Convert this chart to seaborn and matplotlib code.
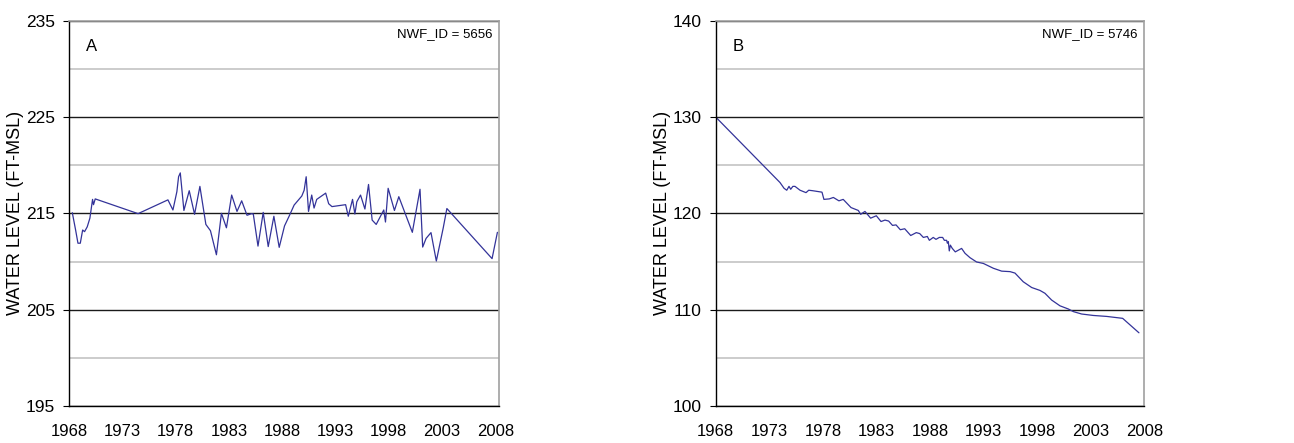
import numpy as np
import pandas as pd
import matplotlib
matplotlib.use("Agg")
import matplotlib.pyplot as plt
import seaborn as sns

# ---- Data: well NWF_ID 5656 (panel A) ----
years_a = [1968.31, 1968.62, 1968.84, 1969.06, 1969.28, 1969.46, 1969.71, 1969.96,
           1970.21, 1970.30, 1970.46, 1974.48, 1977.28, 1977.75, 1978.12, 1978.28,
           1978.44, 1978.78, 1979.28, 1979.78, 1980.28, 1980.84, 1981.27, 1981.83,
           1982.30, 1982.77, 1983.26, 1983.76, 1984.20, 1984.70, 1985.13, 1985.29,
           1985.73, 1986.22, 1986.69, 1987.22, 1987.72, 1988.22, 1988.69, 1989.12,
           1989.84, 1990.06, 1990.25, 1990.47, 1990.77, 1990.99, 1991.24, 1992.08,
           1992.36, 1992.67, 1993.95, 1994.20, 1994.60, 1994.82, 1995.00, 1995.35,
           1995.76, 1996.10, 1996.44, 1996.82, 1997.53, 1997.69, 1997.94, 1998.53,
           1998.94, 2000.21, 2000.93, 2001.18, 2001.50, 2001.96, 2002.46, 2003.11,
           2003.45, 2007.69, 2008.19]
level_a = [215.07, 213.27, 211.90, 211.90, 213.27, 213.10, 213.60, 214.50,
           216.45, 215.90, 216.50, 214.97, 216.40, 215.35, 217.25, 218.80,
           219.20, 215.30, 217.35, 214.90, 217.80, 213.85, 213.20, 210.70,
           215.00, 213.50, 216.90, 215.20, 216.30, 214.80, 214.97, 214.93,
           211.60, 215.10, 211.55, 214.70, 211.47, 213.70, 214.80, 215.86,
           216.80, 217.40, 218.80, 215.20, 216.90, 215.55, 216.45, 217.10,
           216.00, 215.70, 215.90, 214.70, 216.45, 214.93, 216.20, 216.90,
           215.45, 218.00, 214.30, 213.85, 215.35, 214.10, 217.60, 215.30,
           216.73, 213.03, 217.50, 211.50, 212.40, 213.00, 210.05, 213.50,
           215.50, 210.30, 213.03]

# ---- Data: well NWF_ID 5746 (panel B) ----
years_b = [1968.00, 1974.00, 1974.38, 1974.63, 1974.84, 1975.00, 1975.20, 1975.40,
           1975.87, 1976.43, 1976.68, 1977.05, 1977.92, 1978.10, 1978.60, 1978.98,
           1979.50, 1979.90, 1980.63, 1981.31, 1981.53, 1981.93, 1982.46, 1982.99,
           1983.43, 1983.80, 1984.14, 1984.50, 1984.83, 1985.23, 1985.64, 1986.20,
           1986.72, 1987.04, 1987.38, 1987.75, 1987.94, 1988.30, 1988.56, 1988.87,
           1989.18, 1989.34, 1989.55, 1989.62, 1989.71, 1989.80, 1989.90, 1990.08,
           1990.36, 1990.95, 1991.27, 1991.73, 1992.35, 1992.98, 1993.91, 1994.69,
           1995.47, 1995.93, 1996.70, 1997.49, 1998.26, 1998.73, 1999.35, 2000.13,
           2000.91, 2001.38, 2002.15, 2003.24, 2004.49, 2005.98, 2007.50]
level_b = [130.00, 123.20, 122.60, 122.40, 122.80, 122.50, 122.80, 122.80,
           122.40, 122.15, 122.40, 122.35, 122.20, 121.45, 121.50, 121.65,
           121.30, 121.45, 120.60, 120.30, 119.90, 120.20, 119.50, 119.75,
           119.15, 119.30, 119.20, 118.75, 118.80, 118.30, 118.40, 117.70,
           118.00, 117.90, 117.50, 117.60, 117.20, 117.50, 117.30, 117.50,
           117.50, 117.20, 117.20, 116.90, 117.06, 116.10, 116.70, 116.36,
           116.00, 116.36, 115.85, 115.40, 114.95, 114.80, 114.30, 114.00,
           113.95, 113.80, 112.90, 112.30, 112.00, 111.70, 111.00, 110.40,
           110.07, 109.80, 109.55, 109.40, 109.30, 109.10, 107.60]

x_ticks = [1968, 1973, 1978, 1983, 1988, 1993, 1998, 2003, 2008]
y_ticks_a = [195, 205, 215, 225, 235]
y_minor_a = [200, 210, 220, 230]
y_ticks_b = [100, 110, 120, 130, 140]
y_minor_b = [105, 115, 125, 135]

panels = [
    dict(letter="A", well="NWF_ID = 5656", years=years_a, level=level_a,
         yticks=y_ticks_a, yminor=y_minor_a, xlim=(1968, 2008.34)),
    dict(letter="B", well="NWF_ID = 5746", years=years_b, level=level_b,
         yticks=y_ticks_b, yminor=y_minor_b, xlim=(1968, 2008)),
]

sns.set_style("white")
plt.rcParams['font.family'] = ['Liberation Sans', 'DejaVu Sans']
plt.rcParams['text.color'] = 'black'
plt.rcParams['xtick.color'] = 'black'
plt.rcParams['ytick.color'] = 'black'
plt.rcParams['axes.labelcolor'] = 'black'

fig = plt.figure(figsize=(12.94, 4.43), dpi=100)
axes_pos = [[69/1294, 1-406/443, 430/1294, 385.3/443],
            [715.7/1294, 1-406/443, 428.6/1294, 385.3/443]]
line_color = "#333399"

for pos, p in zip(axes_pos, panels):
    ax = fig.add_axes(pos)
    df = pd.DataFrame({"year": p["years"], "level": p["level"]})
    sns.lineplot(data=df, x="year", y="level", ax=ax, color=line_color,
                 linewidth=0.9, sort=False, estimator=None)
    ax.set_xlim(*p["xlim"])
    ax.set_ylim(p["yticks"][0], p["yticks"][-1])
    ax.set_xticks(x_ticks)
    ax.set_xticklabels([str(t) for t in x_ticks])
    ax.set_yticks(p["yticks"])
    ax.set_yticklabels([str(t) for t in p["yticks"]])
    ax.set_yticks(p["yminor"], minor=True)
    ax.grid(False)
    ax.grid(which="major", axis="y", color="#1a1a1a", linewidth=1.0)
    ax.grid(which="minor", axis="y", color="#cccccc", linewidth=1.4)
    ax.set_axisbelow(True)
    for s in ["left", "bottom"]:
        ax.spines[s].set_color("black")
        ax.spines[s].set_linewidth(1.0)
    for s in ["top", "right"]:
        ax.spines[s].set_color("#a0a0a0")
        ax.spines[s].set_linewidth(1.2)
    ax.tick_params(axis="x", which="major", direction="in", length=4.5,
                   width=0.8, color="#444444", labelcolor="black",
                   labelsize=12, pad=13)
    ax.tick_params(axis="y", which="major", direction="out", length=4,
                   width=0.8, color="black", labelcolor="black",
                   labelsize=12.5, pad=6, left=True)
    ax.tick_params(axis="y", which="minor", left=False)
    ax.set_xlabel("")
    ax.set_ylabel("WATER LEVEL (FT-MSL)", fontsize=13, color="black")
    ax.yaxis.set_label_coords(-0.105, 0.5)
    ax.text(0.04, 0.934, p["letter"], transform=ax.transAxes, fontsize=12,
            ha="left", va="center", color="black")
    ax.text(0.985, 0.966, p["well"], transform=ax.transAxes, fontsize=9.5,
            ha="right", va="center", color="black")

fig.savefig("out.png", dpi=100)
